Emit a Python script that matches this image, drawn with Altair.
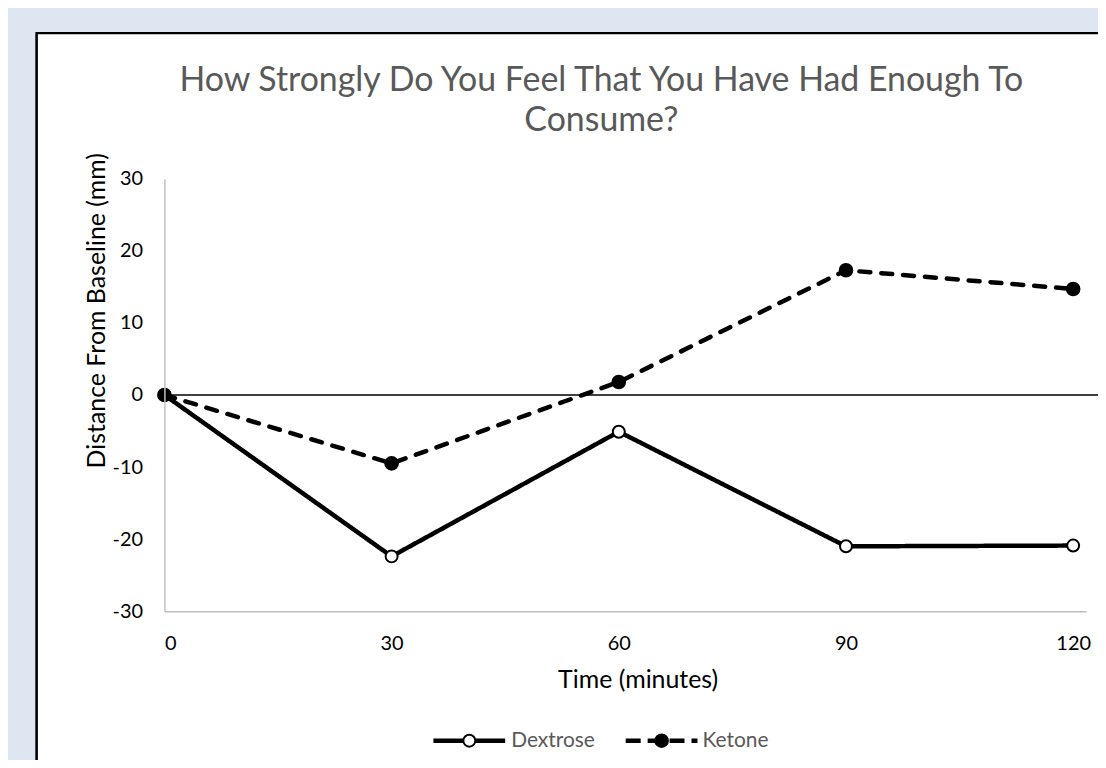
import altair as alt
import pandas as pd

# ---- data ----
times = [0, 30, 60, 90, 120]
dextrose = [0, -22.4, -5.1, -21.0, -20.9]
ketone = [0, -9.5, 1.8, 17.3, 14.7]
series_names = ["Dextrose", "Ketone"]
x_ticks = [0, 30, 60, 90, 120]
y_ticks = [-30, -20, -10, 0, 10, 20, 30]
title_lines = ["How Strongly Do You Feel That You Have Had Enough To", "Consume?"]

rows = []
for t, d, k in zip(times, dextrose, ketone):
    rows.append({"t": t, "v": d, "series": "Dextrose"})
    rows.append({"t": t, "v": k, "series": "Ketone"})
df = pd.DataFrame(rows)

W, H = 925, 434
FONT = "Lato"
X_MAX = 121.7

xs = alt.Scale(domain=[0, X_MAX], nice=False, zero=False)
ys = alt.Scale(domain=[-30, 30], nice=False)

x_axis = alt.Axis(values=x_ticks, title="Time (minutes)", grid=False, ticks=False,
                  labelExpr="'' + datum.value",
                  domainColor="#bfbfbf", domainWidth=1.5, labelFont=FONT, labelFontSize=20,
                  labelColor="black", labelPadding=22, titleFont=FONT, titleFontSize=25,
                  titleFontWeight="normal", titleColor="black", titleX=475, titleY=69,
                  titleBaseline="middle", titleAlign="center", zindex=2)
y_axis = alt.Axis(values=y_ticks, title="Distance From Baseline (mm)", grid=False, ticks=False,
                  labelExpr="'' + datum.value",
                  domainColor="#bfbfbf", domainWidth=1.5, labelFont=FONT, labelFontSize=20,
                  labelColor="black", labelPadding=22, titleFont=FONT, titleFontSize=25,
                  titleFontWeight="normal", titleColor="black", titleX=-68, titleY=132,
                  titleBaseline="middle", titleAlign="center", zindex=2)

base = alt.Chart(df)

# white chart box (decoration)
box = base.mark_rect(fill="white", stroke="black", strokeWidth=2).encode(
    x=alt.value(-128), x2=alt.value(2000), y=alt.value(-146), y2=alt.value(2000)
)

zero_rule = alt.Chart(pd.DataFrame({"z": [0]})).mark_rule(color="black", strokeWidth=1.5).encode(
    y=alt.Y("z:Q", scale=ys, axis=y_axis),
    x=alt.value(0), x2=alt.value(W + 30),
)

lines = base.mark_line(color="black", strokeWidth=4.5, strokeCap="round").encode(
    x=alt.X("t:Q", scale=xs, axis=x_axis),
    y=alt.Y("v:Q", scale=ys, axis=y_axis),
    strokeDash=alt.StrokeDash("series:N", scale=alt.Scale(domain=series_names, range=[[1, 0], [11, 11]]),
                              legend=None),
    detail="series:N",
)

pts_d = base.transform_filter("datum.series == 'Dextrose'").mark_point(
    shape="circle", filled=True, fill="white", stroke="black", strokeWidth=2, size=144, opacity=1
).encode(x=alt.X("t:Q", scale=xs, axis=x_axis), y=alt.Y("v:Q", scale=ys, axis=y_axis))

pts_k = base.transform_filter("datum.series == 'Ketone'").mark_point(
    shape="circle", filled=True, fill="black", stroke="black", strokeWidth=2, size=160, opacity=1
).encode(x=alt.X("t:Q", scale=xs, axis=x_axis), y=alt.Y("v:Q", scale=ys, axis=y_axis))

# ---- legend (below the x-axis title) ----
LEG_Y = 564
leg_d = alt.Chart(pd.DataFrame({"label": [series_names[0]]}))
leg_k = alt.Chart(pd.DataFrame({"label": [series_names[1]]}))

leg_d_line = leg_d.mark_rule(color="black", strokeWidth=4.5).encode(
    x=alt.value(270), x2=alt.value(342), y=alt.value(LEG_Y))
leg_d_pt = leg_d.mark_point(shape="circle", filled=True, fill="white", stroke="black",
                            strokeWidth=2, size=144, opacity=1).encode(
    x=alt.value(306), y=alt.value(LEG_Y))
leg_d_txt = leg_d.mark_text(align="left", baseline="middle", font=FONT, fontSize=21,
                            color="#595959").encode(
    x=alt.value(348), y=alt.value(LEG_Y), text="label:N")

leg_k_line = leg_k.mark_rule(color="black", strokeWidth=4.5, strokeDash=[15, 7]).encode(
    x=alt.value(463), x2=alt.value(535), y=alt.value(LEG_Y))
leg_k_pt = leg_k.mark_point(shape="circle", filled=True, fill="black", stroke="black",
                            strokeWidth=2, size=160, opacity=1).encode(
    x=alt.value(499), y=alt.value(LEG_Y))
leg_k_txt = leg_k.mark_text(align="left", baseline="middle", font=FONT, fontSize=21,
                            color="#595959").encode(
    x=alt.value(540), y=alt.value(LEG_Y), text="label:N")

chart = alt.layer(
    box, zero_rule, lines, pts_d, pts_k,
    leg_d_line, leg_d_pt, leg_d_txt, leg_k_line, leg_k_pt, leg_k_txt
).properties(
    width=W, height=H,
    title=alt.TitleParams(text=title_lines, font=FONT, fontSize=34, fontWeight="normal",
                          color="#595959", anchor="middle", dx=-24, dy=106, offset=0,
                          lineHeight=40, zindex=2),
    autosize=alt.AutoSizeParams(type="none"),
    padding={"left": 157, "top": 170, "right": 12, "bottom": 148},
).configure(background="#dde6f1").configure_view(strokeWidth=0)

chart.save("out.html", embed_options={"renderer": "svg", "actions": False})
